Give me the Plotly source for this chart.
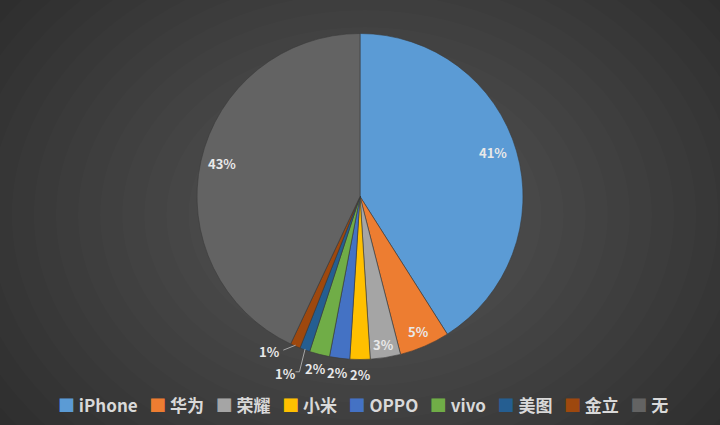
import math
import plotly.graph_objects as go

# ---- data ----
brands = ["iPhone", "华为", "荣耀", "小米", "OPPO", "vivo", "美图", "金立", "无"]
shares = [41, 5, 3, 2, 2, 2, 1, 1, 43]
colors = ["#5B9BD5", "#ED7D31", "#A5A5A5", "#FFC000", "#4472C4",
          "#70AD47", "#255E91", "#9E480E", "#636363"]
# label placement style per slice: (radius factor, angle offset in degrees, leader line?)
label_style = [(0.86, -2, False), (0.90, 0, False), (0.92, 0, False),
               (1.09, 0, False), (1.09, 0, False), (1.09, 0, False),
               (1.18, 3, True), (1.10, 7, True), (0.87, 1, False)]

W, H = 720, 425
cx, cy, R = 360, 196.5, 163

fig = go.Figure()
fig.add_trace(go.Pie(
    labels=brands, values=shares, sort=False, direction="clockwise", rotation=0,
    marker=dict(colors=colors, line=dict(color="#3a3a3a", width=0.6)),
    textinfo="none", hoverinfo="skip", showlegend=False,
    domain=dict(x=[(cx - R) / W, (cx + R) / W], y=[1 - (cy + R) / H, 1 - (cy - R) / H]),
))

def to_paper(px, py):
    return px / W, 1 - py / H

total = sum(shares)
annotations = []
shapes = []

# background radial gradient
N = 24
gx, gy = 365, 215
for k in range(N):
    f = 1 - k / N
    rx, ry = 530 * f, 410 * f
    x0, y0 = to_paper(gx - rx, gy + ry)
    x1, y1 = to_paper(gx + rx, gy - ry)
    shapes.append(dict(type="circle", xref="paper", yref="paper", x0=x0, y0=y0, x1=x1, y1=y1,
                       fillcolor="rgba(255,255,255,0.011)", line=dict(width=0), layer="below"))

cum = 0
for i, v in enumerate(shares):
    mid = (cum + v / 2) / total * 360
    cum += v
    rf, off, leader = label_style[i]
    a = math.radians(mid + off)
    lx, ly = cx + R * rf * math.sin(a), cy - R * rf * math.cos(a)
    pct = f"{round(v / total * 100)}%"
    x, y = to_paper(lx, ly)
    annotations.append(dict(x=x, y=y, xref="paper", yref="paper", text=pct, showarrow=False,
                            xanchor="center", yanchor="middle",
                            font=dict(family="Noto Sans CJK SC", size=13, color="#e8e8e8", weight="bold")))
    if leader:
        am = math.radians(mid)
        sx, sy = cx + (R - 1) * math.sin(am), cy - (R - 1) * math.cos(am)
        if i == 6:
            ex, ey = lx + 14, ly - 2
            pts = [(sx, sy), (ex, ey), (ex - 4, ey)]
        else:
            ex, ey = lx + 14, ly - 1
            pts = [(sx, sy), (ex, ey)]
        for (p0, p1) in zip(pts[:-1], pts[1:]):
            X0, Y0 = to_paper(*p0)
            X1, Y1 = to_paper(*p1)
            shapes.append(dict(type="line", xref="paper", yref="paper", x0=X0, y0=Y0, x1=X1, y1=Y1,
                               line=dict(color="#a6a6a6", width=1)))

# legend as a single line of text
sep = "\u00a0\u00a0\u00a0"
parts = [f"<span style='color:{c}'>■</span>\u00a0{b}" for b, c in zip(brands, colors)]
annotations.append(dict(x=363 / W, y=1 - 404 / H, xref="paper", yref="paper", text=sep.join(parts),
                        showarrow=False, xanchor="center", yanchor="middle",
                        font=dict(family="Noto Sans CJK SC", size=17, color="#d9d9d9", weight="bold")))

fig.update_layout(
    width=W, height=H, margin=dict(l=0, r=0, t=0, b=0),
    paper_bgcolor="#262626", plot_bgcolor="#262626",
    annotations=annotations, shapes=shapes,
)

fig.write_html("out.html")
